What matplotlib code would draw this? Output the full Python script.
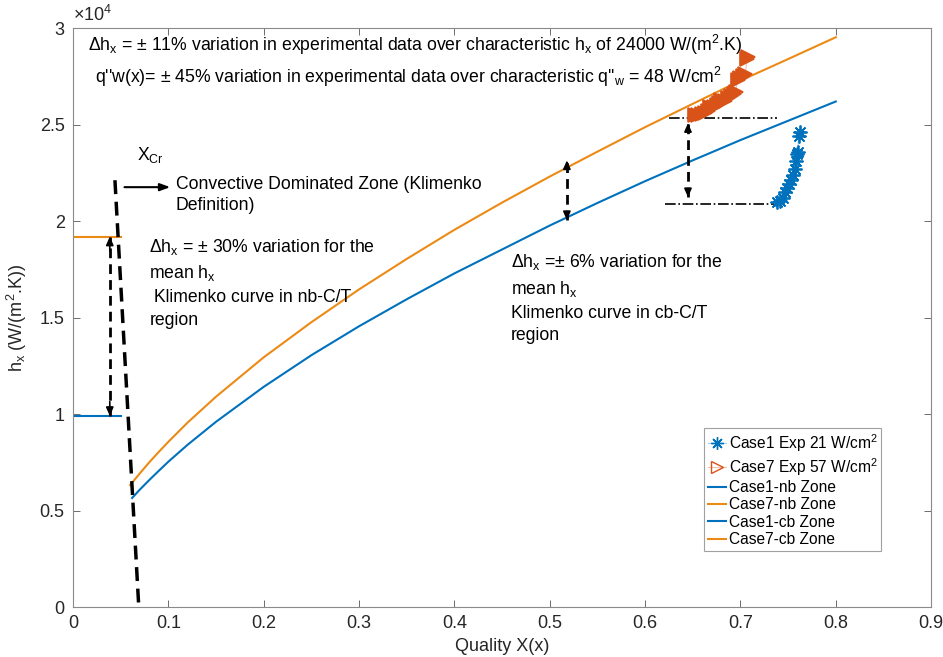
import numpy as np
import matplotlib
matplotlib.use("Agg")
import matplotlib.pyplot as plt
from matplotlib.lines import Line2D

plt.rcParams['font.family'] = ['Liberation Sans', 'DejaVu Sans']
plt.rcParams['mathtext.fontset'] = 'custom'
plt.rcParams['mathtext.rm'] = 'Liberation Sans'
plt.rcParams['mathtext.it'] = 'Liberation Sans:italic'

BLUE = '#0072BD'
ORANGE = '#EC8A16'
RED = '#D95319'

# Klimenko convective-boiling curves (cb zone)
x_cb1 = [0.062, 0.07, 0.08, 0.09, 0.10, 0.12, 0.15, 0.20, 0.25, 0.30, 0.35,
         0.40, 0.45, 0.50, 0.55, 0.60, 0.65, 0.70, 0.75, 0.80]
h_cb1 = [5650, 6080, 6580, 7060, 7530, 8400, 9600, 11410, 13050, 14550,
         15950, 17290, 18530, 19770, 20940, 22070, 23150, 24200, 25200, 26200]
x_cb7 = [0.060, 0.07, 0.08, 0.09, 0.10, 0.12, 0.15, 0.20, 0.25, 0.30, 0.35,
         0.40, 0.45, 0.50, 0.55, 0.60, 0.65, 0.70, 0.75, 0.80]
h_cb7 = [6320, 6920, 7500, 8040, 8560, 9550, 10900, 12940, 14760, 16460,
         18040, 19550, 20960, 22310, 23600, 24870, 26080, 27280, 28400, 29530]

# nucleate-boiling zone (constant h below X_cr)
x_nb = [0.0, 0.05]
h_nb1 = [9900, 9900]
h_nb7 = [19200, 19200]

# experimental points
x_exp1 = [0.738, 0.742, 0.745, 0.747, 0.749, 0.751, 0.753, 0.755, 0.757,
          0.758, 0.759, 0.760, 0.761, 0.763]
h_exp1 = [21000, 21050, 21200, 21500, 21700, 21900, 22150, 22400, 22700,
          23100, 23500, 23600, 24400, 24600]
x_exp7 = [0.652, 0.656, 0.660, 0.663, 0.666, 0.668, 0.672, 0.675, 0.678,
          0.680, 0.684, 0.687, 0.690, 0.693, 0.695, 0.697, 0.700, 0.703,
          0.705, 0.707, 0.708]
h_exp7 = [25500, 25500, 25550, 25600, 25700, 25900, 25900, 26000, 26100,
          26300, 26250, 26400, 26500, 26600, 26700, 27300, 27400, 27500,
          27600, 28400, 28500]

# critical quality line
x_crit = [0.044, 0.069]
h_crit = [22120, 0]

fig = plt.figure(figsize=(9.43, 6.57), dpi=100)
ax = fig.add_axes([0.0774, 0.0761, 0.910, 0.881])

ax.plot(x_exp1, h_exp1, color=(0, 0.447, 0.741, 0.35), lw=0.8,
        marker=(8, 2, 0), ms=10, mec=BLUE, mew=1.3, mfc='none', zorder=4)
ax.plot(x_exp7, h_exp7, color=(0.851, 0.325, 0.098, 0.35), lw=0.8,
        marker='>', ms=10, mec=RED, mew=1.2, mfc=RED, zorder=4)
ax.plot(x_nb, h_nb1, color=BLUE, lw=1.5)
ax.plot(x_nb, h_nb7, color=ORANGE, lw=1.5)
ax.plot(x_cb1, h_cb1, color=BLUE, lw=1.5)
ax.plot(x_cb7, h_cb7, color=ORANGE, lw=1.5)

ax.plot(x_crit, h_crit, color='black', lw=2.5, ls=(0, (4, 2.2)), zorder=3)


def dashed_double_arrow(x, y0, y1):
    ax.plot([x, x], [y0, y1], color='black', lw=2.0, ls=(0, (3.5, 2.2)))
    span = (y1 - y0) * 0.08
    head = dict(arrowstyle='-|>,head_length=0.5,head_width=0.22',
                color='black', lw=1.2, shrinkA=0, shrinkB=0)
    ax.annotate('', xy=(x, y1), xytext=(x, y1 - span), arrowprops=head)
    ax.annotate('', xy=(x, y0), xytext=(x, y0 + span), arrowprops=head)


dashed_double_arrow(0.0386, 9900, 19200)
dashed_double_arrow(0.518, 20050, 23150)
dashed_double_arrow(0.645, 21240, 25080)

ax.plot([0.625, 0.738], [25340, 25340], color='black', lw=1.2, ls='-.')
ax.plot([0.621, 0.735], [20880, 20880], color='black', lw=1.2, ls='-.')

ax.annotate('', xy=(0.102, 21760), xytext=(0.054, 21760),
            arrowprops=dict(arrowstyle='-|>,head_length=0.6,head_width=0.22',
                            color='black', lw=1.5, shrinkA=0, shrinkB=0))

fs = 12.7
ax.text(0.067, 23450, r'X$_{\rm Cr}$', fontsize=fs, va='center')
ax.text(0.108, 22350, 'Convective Dominated Zone (Klimenko\nDefinition)',
        fontsize=fs, va='top', linespacing=1.3)
ax.text(0.016, 29150,
        r'$\Delta$h$_{\rm x}$ = $\pm$ 11% variation in experimental data over '
        r'characteristic h$_{\rm x}$ of 24000 W/(m$^{2}$.K)',
        fontsize=fs, va='center')
ax.text(0.023, 27460,
        r"q''w(x)= $\pm$ 45% variation in experimental data over "
        r"characteristic q''$_{\rm w}$ = 48 W/cm$^{2}$",
        fontsize=fs, va='center')
ax.text(0.080, 19200,
        r'$\Delta$h$_{\rm x}$ = $\pm$ 30% variation for the' + '\n'
        + r'mean h$_{\rm x}$' + '\n' + ' Klimenko curve in nb-C/T\nregion',
        fontsize=fs, va='top', linespacing=1.45)
ax.text(0.459, 18400,
        r'$\Delta$h$_{\rm x}$ =$\pm$ 6% variation for the' + '\n'
        + r'mean h$_{\rm x}$' + '\n' + 'Klimenko curve in cb-C/T\nregion',
        fontsize=fs, va='top', linespacing=1.45)

ax.set_xlim(0, 0.9)
ax.set_ylim(0, 30000)
ax.set_xticks(np.arange(0, 0.91, 0.1))
ax.set_xticklabels(['0', '0.1', '0.2', '0.3', '0.4', '0.5', '0.6', '0.7', '0.8', '0.9'])
ax.set_yticks(np.arange(0, 30001, 5000))
ax.set_yticklabels(['0', '0.5', '1', '1.5', '2', '2.5', '3'])
ax.tick_params(direction='in', top=True, right=True, length=5, width=0.6,
               color='#555555', labelsize=13, labelcolor='#262626', pad=6)
for sp in ax.spines.values():
    sp.set_color('#8a8a8a')
    sp.set_linewidth(0.8)
ax.text(0.0, 1.005, r'$\times$10$^{4}$', transform=ax.transAxes,
        fontsize=13, va='bottom', ha='left', color='#262626')

ax.set_xlabel('Quality X(x)', fontsize=13, color='#262626', labelpad=4)
ax.set_ylabel(r'h$_{\rm x}$ (W/(m$^{2}$.K))', fontsize=13, color='#262626',
              labelpad=8)

handles = [
    Line2D([], [], color=(0, 0.447, 0.741, 0.35), lw=0.8, marker=(8, 2, 0),
           ms=9, mec=BLUE, mfc='none'),
    Line2D([], [], color=(0.851, 0.325, 0.098, 0.35), lw=0.8, marker='>',
           ms=9, mec=RED, mfc='none'),
    Line2D([], [], color=BLUE, lw=1.5),
    Line2D([], [], color=ORANGE, lw=1.5),
    Line2D([], [], color=BLUE, lw=1.5),
    Line2D([], [], color=ORANGE, lw=1.5),
]
labels = [r'Case1 Exp 21 W/cm$^{2}$', r'Case7 Exp 57 W/cm$^{2}$',
          'Case1-nb Zone', 'Case7-nb Zone', 'Case1-cb Zone', 'Case7-cb Zone']
leg = ax.legend(handles, labels, loc='upper left',
                bbox_to_anchor=(0.735, 0.309), fontsize=11.2,
                frameon=True, fancybox=False, edgecolor='#8a8a8a',
                handlelength=1.2, handletextpad=0.15, borderpad=0.25,
                labelspacing=0.15, borderaxespad=0)
leg.get_frame().set_linewidth(0.8)

fig.savefig('out.png', dpi=100)
